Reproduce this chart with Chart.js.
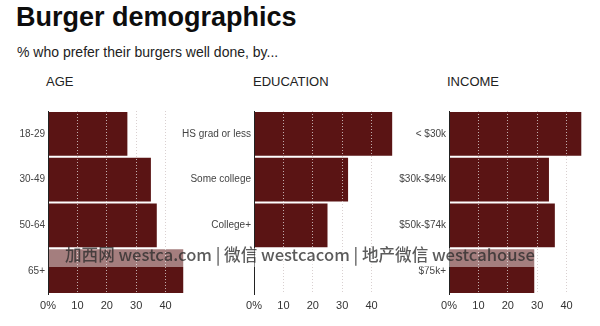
<!DOCTYPE html>
<html><head><meta charset="utf-8">
<script src="https://cdn.jsdelivr.net/npm/chart.js@4"></script>
<style>
body{margin:0;background:#fff;width:600px;height:326px;overflow:hidden;position:relative;font-family:'Liberation Sans',Arial,sans-serif}
.abs{position:absolute;white-space:nowrap}
#title{left:16px;top:4px;font-size:27px;font-weight:bold;line-height:27px;color:#0d0d0d}
#sub{left:17px;top:44px;font-size:14px;line-height:16px;color:#222}
.hdr{top:74px;font-size:13px;line-height:16px;color:#222}
canvas{position:absolute}
#wmband{left:49px;top:248px;width:486px;height:19px;background:rgba(255,255,255,0.45)}
#wm{left:65px;top:242px;font-family:'Noto Sans CJK SC',sans-serif;font-weight:500;font-size:18px;line-height:24px;color:rgba(45,45,45,0.78)}
</style></head>
<body>
<div id="title" class="abs">Burger demographics</div>
<div id="sub" class="abs">% who prefer their burgers well done, by...</div>
<div class="abs hdr" style="left:46px">AGE</div>
<div class="abs hdr" style="left:253px">EDUCATION</div>
<div class="abs hdr" style="left:447px">INCOME</div>
<canvas id="age" width="195" height="224" style="left:0px;top:102px"></canvas>
<canvas id="edu" width="227" height="224" style="left:174px;top:102px"></canvas>
<canvas id="inc" width="204" height="224" style="left:392px;top:102px"></canvas>
<div id="wmband" class="abs"></div>
<div id="wm" class="abs">加西网 westca.com | 微信 westcacom | 地产微信 westcahouse</div>
<script>
const ageCategories = ['18-29','30-49','50-64','65+'];
const ageValues = [27, 35, 37, 46];
const educationCategories = ['HS grad or less','Some college','College+'];
const educationValues = [47, 32, 25];
const incomeCategories = ['< $30k','$30k-$49k','$50k-$74k','$75k+'];
const incomeValues = [45, 34, 36, 29];
const xTickValues = [0, 10, 20, 30, 40];
const rowCount = 4;
const barColor = '#5a1414';

function makePanel(id, cats, vals, yWidth){
  const labels = cats.slice(); while (labels.length < rowCount) labels.push('');
  const data = vals.slice(); while (data.length < rowCount) data.push(null);
  new Chart(document.getElementById(id), {
    type: 'bar',
    data: { labels, datasets: [{ data, backgroundColor: barColor, borderWidth: 0, barPercentage: 0.96, categoryPercentage: 1 }] },
    options: {
      indexAxis: 'y', responsive: false, animation: false,
      layout: { padding: 0 },
      plugins: { legend: { display: false }, tooltip: { enabled: false } },
      scales: {
        x: {
          min: 0, max: 50,
          afterBuildTicks: s => { s.ticks = xTickValues.map(v => ({ value: v })); },
          afterFit: s => { s.height = 32; },
          grid: { z: 1, drawTicks: false, lineWidth: 1,
                  color: c => (c.tick && c.tick.value === 0) ? 'rgba(0,0,0,0)' : 'rgba(210,200,200,0.85)' },
          border: { display: false, dash: [1, 2] },
          ticks: { padding: 5, color: '#333', autoSkip: false, maxRotation: 0,
                   font: { family: "'Liberation Sans', Arial, sans-serif", size: 11 },
                   callback: v => v === 0 ? '0%' : String(v) }
        },
        y: {
          grid: { display: false, drawTicks: false },
          border: { display: true, color: '#222', width: 1, z: 2 },
          afterFit: s => { s.width = yWidth; },
          ticks: { padding: 3, color: '#444', font: { family: "'Liberation Sans', Arial, sans-serif", size: 10 } }
        }
      }
    }
  });
}
makePanel('age', ageCategories, ageValues, 48);
makePanel('edu', educationCategories, educationValues, 80);
makePanel('inc', incomeCategories, incomeValues, 57);

const wm = document.getElementById('wm');
const w = wm.getBoundingClientRect().width;
wm.style.fontSize = (18 * 470 / w) + 'px';
</script>
</body></html>
